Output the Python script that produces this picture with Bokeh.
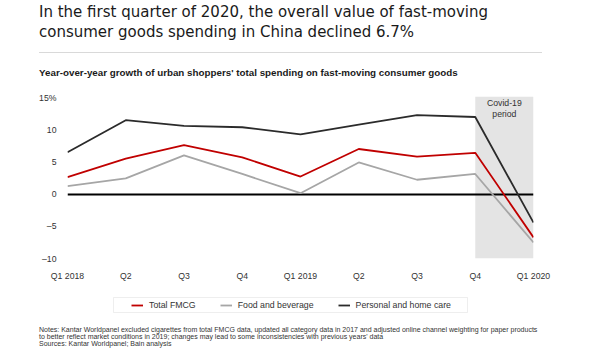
from bokeh.plotting import figure
from bokeh.models import (Range1d, FixedTicker, Span, BoxAnnotation, Label,
                          Legend, LegendItem, Div)
from bokeh.layouts import column
from bokeh.embed import file_html
from bokeh.resources import INLINE

# ---- data ----
quarters = ["Q1 2018", "Q2", "Q3", "Q4", "Q1 2019", "Q2", "Q3", "Q4", "Q1 2020"]
total_fmcg = [2.7, 5.6, 7.7, 5.8, 2.8, 7.1, 5.9, 6.5, -6.7]
food_bev = [1.3, 2.5, 6.1, 3.2, 0.2, 5.0, 2.3, 3.2, -7.5]
personal_home = [6.6, 11.6, 10.7, 10.5, 9.4, 10.9, 12.4, 12.1, -4.4]
y_ticks = [-10, -5, 0, 5, 10, 15]
y_tick_labels = ["\u201310", "\u20135", "0", "5", "10", "15%"]
series_names = ["Total FMCG", "Food and beverage", "Personal and home care"]
series_colors = ["#c00000", "#a6a6a6", "#2b2b2b"]

title_lines = ["In the first quarter of 2020, the overall value of fast-moving",
               "consumer goods spending in China declined 6.7%"]
subtitle = "Year-over-year growth of urban shoppers' total spending on fast-moving consumer goods"
covid_text = ["Covid-19", "period"]
notes = ["Notes: Kantar Worldpanel excluded cigarettes from total FMCG data, updated all category data in 2017 and adjusted online channel weighting for paper products",
         "to better reflect market conditions in 2019; changes may lead to some inconsistencies with previous years' data",
         "Sources: Kantar Worldpanel; Bain analysis"]

W = 584
TOP_H = 90
FL = 67  # frame left (shared by the column's plots)
x = list(range(len(quarters)))
series = [total_fmcg, food_bev, personal_home]

# ---- header ----
header = Div(width=W, height=TOP_H, margin=0, text=(
    '<div style="font-family:\'DejaVu Sans\';font-size:15px;line-height:19.5px;color:#1a1a1a;'
    'padding:3px 0 0 39px;margin:0;white-space:nowrap">'
    f'{title_lines[0]}<br>{title_lines[1]}</div>'
    '<div style="margin:10px 0 0 39px;width:503px;height:0;border-top:1px solid #d9d9d9"></div>'
    '<div style="font-family:\'Liberation Sans\';font-weight:bold;font-size:9.8px;'
    'line-height:11px;color:#1a1a1a;margin:14px 0 0 39px;white-space:nowrap">'
    f'{subtitle}</div>'))

# ---- chart ----
p = figure(width=W, height=196, output_backend="svg", toolbar_location=None,
           x_range=Range1d(0, len(quarters) - 1), y_range=Range1d(-10, 15.3),
           min_border_left=FL, min_border_right=51, min_border_top=6,
           min_border_bottom=28, margin=0)
p.outline_line_color = None
p.xgrid.visible = False
p.ygrid.visible = False

for ax in (p.xaxis, p.yaxis):
    ax.axis_line_color = None
    ax.major_tick_line_color = None
    ax.minor_tick_line_color = None
    ax.major_tick_out = 0
    ax.major_tick_in = 0
    ax.major_label_text_font = "Liberation Sans"
    ax.major_label_text_font_size = "8.7px"
    ax.major_label_text_color = "#333333"
p.xaxis.ticker = FixedTicker(ticks=x)
p.xaxis.major_label_overrides = {i: q for i, q in enumerate(quarters)}
p.xaxis.major_label_standoff = 12
p.yaxis.ticker = FixedTicker(ticks=y_ticks)
p.yaxis.major_label_overrides = {t: l for t, l in zip(y_ticks, y_tick_labels)}
p.yaxis.major_label_standoff = 11

ci = len(quarters) - 2
p.add_layout(BoxAnnotation(left=ci, right=ci + 1, fill_color="#e4e4e4", fill_alpha=1,
                           line_color=None, level="underlay"))
p.add_layout(Span(location=0, dimension="width", line_color="black", line_width=2,
                  level="underlay"))

for vals, col in zip(series, series_colors):
    p.line(x, vals, line_color=col, line_width=1.8)

FH = 162  # frame height in px
for txt, off in zip(covid_text, (6, 17)):
    p.add_layout(Label(x=ci + 0.5, y=FH - off, y_units="screen", text=txt,
                       text_align="center", text_baseline="middle",
                       text_font="Liberation Sans", text_font_size="8.7px",
                       text_color="#333333"))

# ---- legend panel ----
BH = 36
q = figure(width=W, height=BH, output_backend="svg", toolbar_location=None,
           x_range=Range1d(0, 1), y_range=Range1d(-100, -99),
           x_axis_location=None, y_axis_location=None,
           min_border_left=FL, min_border_right=51, min_border_top=0,
           min_border_bottom=0, margin=0)
q.outline_line_color = None
q.grid.visible = False

# legend swatches: one-point lines (nothing drawn in the frame)
swatches = [q.line(x=x[:1], y=vals[:1], line_color=c, line_width=1.8)
            for vals, c in zip(series, series_colors)]

q.add_layout(BoxAnnotation(left=113 - FL, right=467 - FL, top=BH - 11, bottom=BH - 26,
                           left_units="screen", right_units="screen",
                           top_units="screen", bottom_units="screen",
                           fill_alpha=0, line_color="#c8c8c8", line_width=1))

legend = Legend(items=[LegendItem(label=n, renderers=[r])
                       for n, r in zip(series_names, swatches)],
                orientation="horizontal", location=(131 - FL, BH - 24),
                glyph_width=12, glyph_height=10, label_height=10,
                label_standoff=6, spacing=24, padding=0, margin=0,
                label_text_font="Liberation Sans", label_text_font_size="8.75px",
                label_text_color="#333333", border_line_alpha=0,
                background_fill_alpha=0)
q.add_layout(legend, "center")

# ---- notes ----
footer = Div(width=W, height=24, margin=0, text=(
    '<div style="font-family:\'Liberation Sans\';font-size:7px;line-height:7px;'
    'color:#333333;padding:3.5px 0 0 39px;white-space:nowrap">'
    + "<br>".join(notes) + '</div>'))

layout = column(header, p, q, footer, spacing=0)
open("out.html", "w").write(file_html(layout, INLINE))
